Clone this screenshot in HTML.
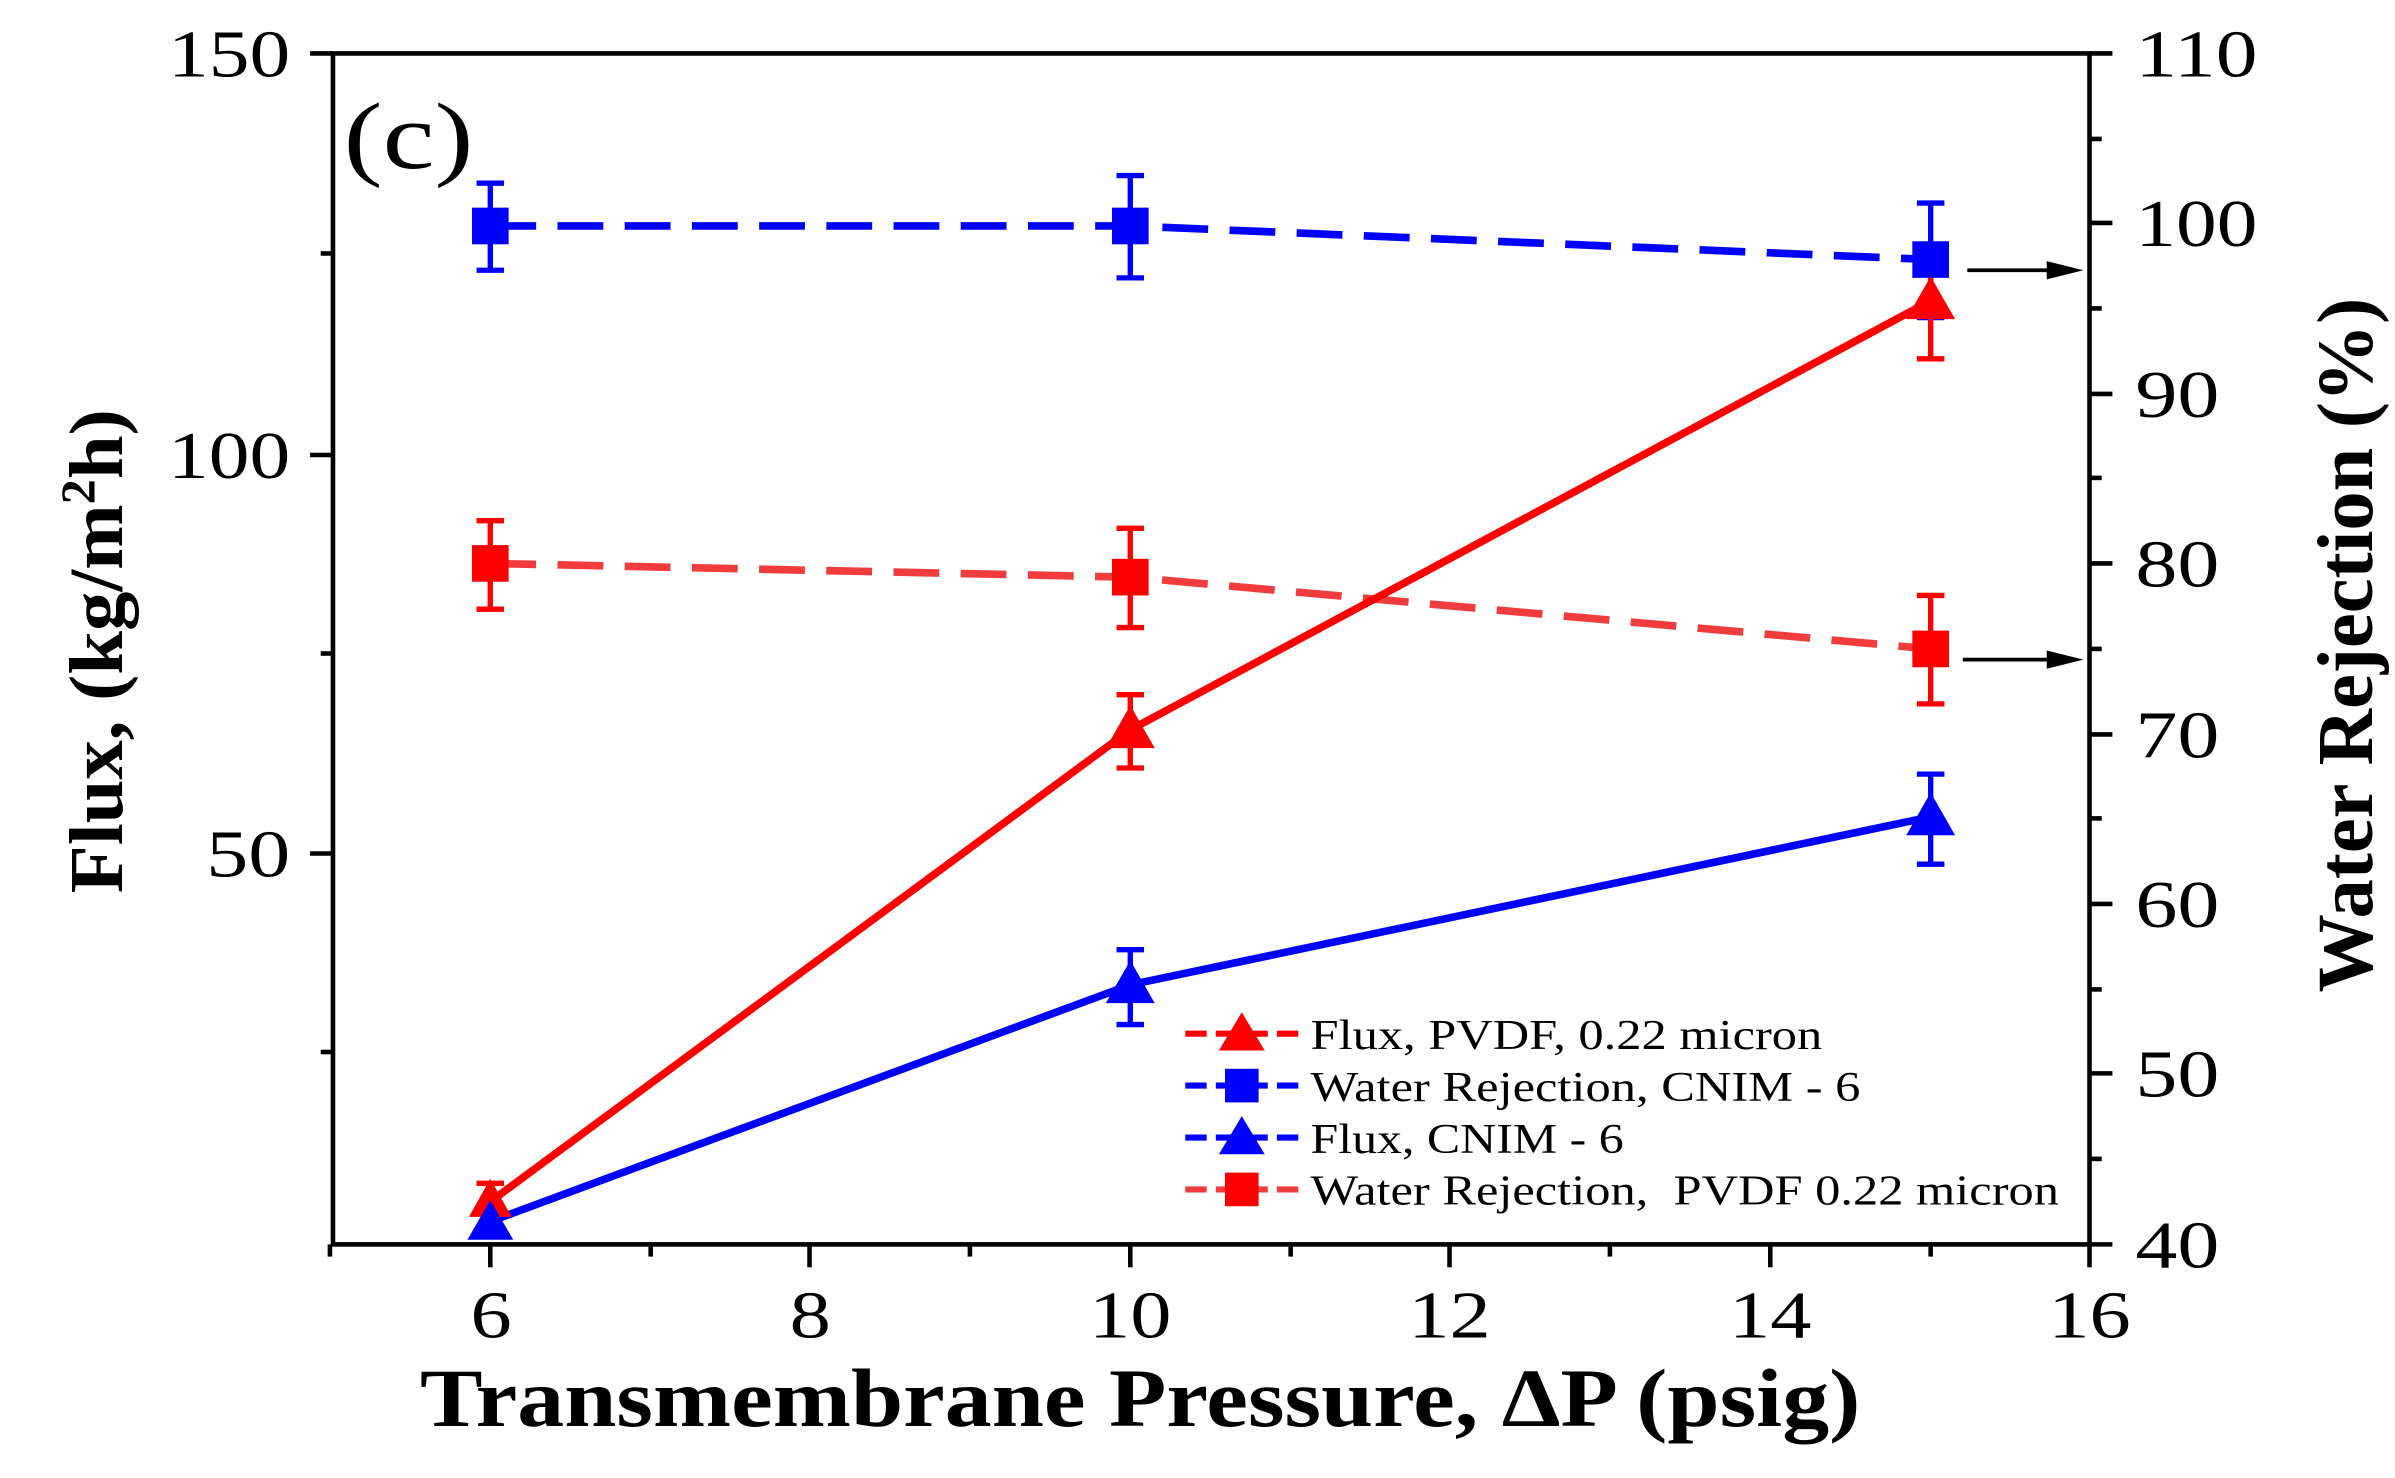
<!DOCTYPE html>
<html><head><style>html,body{margin:0;padding:0;background:#fff}svg{display:block}</style></head><body>
<svg width="2395" height="1478" viewBox="0 0 1568 968" preserveAspectRatio="none" xmlns="http://www.w3.org/2000/svg" font-family="Liberation Serif, serif">
<g stroke="#000" stroke-width="3" fill="none">
<rect x="218" y="35" width="1150" height="780"/>
<line x1="203" y1="35" x2="218" y2="35"/><line x1="203" y1="298" x2="218" y2="298"/><line x1="203" y1="559" x2="218" y2="559"/>
<line x1="210" y1="166" x2="218" y2="166"/><line x1="210" y1="428" x2="218" y2="428"/><line x1="210" y1="689" x2="218" y2="689"/>
<line x1="1368" y1="35" x2="1383" y2="35"/><line x1="1368" y1="146" x2="1383" y2="146"/><line x1="1368" y1="258" x2="1383" y2="258"/><line x1="1368" y1="369" x2="1383" y2="369"/><line x1="1368" y1="481" x2="1383" y2="481"/><line x1="1368" y1="592" x2="1383" y2="592"/><line x1="1368" y1="703" x2="1383" y2="703"/><line x1="1368" y1="815" x2="1383" y2="815"/>
<line x1="1368" y1="91" x2="1376" y2="91"/><line x1="1368" y1="202" x2="1376" y2="202"/><line x1="1368" y1="313" x2="1376" y2="313"/><line x1="1368" y1="425" x2="1376" y2="425"/><line x1="1368" y1="536" x2="1376" y2="536"/><line x1="1368" y1="648" x2="1376" y2="648"/><line x1="1368" y1="759" x2="1376" y2="759"/>
<line x1="321" y1="815" x2="321" y2="830"/><line x1="530" y1="815" x2="530" y2="830"/><line x1="740" y1="815" x2="740" y2="830"/><line x1="949" y1="815" x2="949" y2="830"/><line x1="1159" y1="815" x2="1159" y2="830"/><line x1="1368" y1="815" x2="1368" y2="830"/>
<line x1="216" y1="815" x2="216" y2="823"/><line x1="426" y1="815" x2="426" y2="823"/><line x1="635" y1="815" x2="635" y2="823"/><line x1="845" y1="815" x2="845" y2="823"/><line x1="1054" y1="815" x2="1054" y2="823"/><line x1="1264" y1="815" x2="1264" y2="823"/>
</g>
<g font-size="44" fill="#000">
<text x="110" y="50" textLength="80" lengthAdjust="spacingAndGlyphs">150</text><text x="110" y="313" textLength="80" lengthAdjust="spacingAndGlyphs">100</text><text x="135" y="574" textLength="55" lengthAdjust="spacingAndGlyphs">50</text>
<text x="1398" y="50" textLength="80" lengthAdjust="spacingAndGlyphs">110</text><text x="1398" y="161" textLength="80" lengthAdjust="spacingAndGlyphs">100</text><text x="1398" y="273" textLength="55" lengthAdjust="spacingAndGlyphs">90</text><text x="1398" y="384" textLength="55" lengthAdjust="spacingAndGlyphs">80</text><text x="1398" y="496" textLength="55" lengthAdjust="spacingAndGlyphs">70</text><text x="1398" y="607" textLength="55" lengthAdjust="spacingAndGlyphs">60</text><text x="1398" y="718" textLength="55" lengthAdjust="spacingAndGlyphs">50</text><text x="1398" y="830" textLength="55" lengthAdjust="spacingAndGlyphs">40</text>
<text x="308" y="876" textLength="27" lengthAdjust="spacingAndGlyphs">6</text><text x="517" y="876" textLength="27" lengthAdjust="spacingAndGlyphs">8</text><text x="713" y="876" textLength="54" lengthAdjust="spacingAndGlyphs">10</text><text x="922" y="876" textLength="54" lengthAdjust="spacingAndGlyphs">12</text><text x="1132" y="876" textLength="54" lengthAdjust="spacingAndGlyphs">14</text><text x="1341" y="876" textLength="54" lengthAdjust="spacingAndGlyphs">16</text>
</g>
<text x="225" y="110" font-size="62" textLength="85" lengthAdjust="spacingAndGlyphs">(c)</text>
<text x="275" y="934" font-size="54" font-weight="bold" textLength="943" lengthAdjust="spacingAndGlyphs">Transmembrane Pressure, ΔP (psig)</text>
<text transform="translate(80,585) rotate(-90)" font-size="50" font-weight="bold" textLength="317" lengthAdjust="spacingAndGlyphs">Flux, (kg/m<tspan font-size="32" dy="-18">2</tspan><tspan dy="18">h)</tspan></text>
<text transform="translate(1553,650) rotate(-90)" font-size="52" font-weight="bold" textLength="455" lengthAdjust="spacingAndGlyphs">Water Rejection (%)</text>
<g fill="none" stroke-width="5">
<polyline points="321,148 740,148 1264,170" stroke="#0000ff" stroke-dasharray="30,14"/>
<polyline points="321,369 740,378 1264,425" stroke="#f03c3c" stroke-dasharray="30,14"/>
<polyline points="321,787 740,478 1264,197" stroke="#ff0000"/>
<polyline points="321,800 740,645 1264,535" stroke="#0000ff"/>
</g>
<g stroke-width="3.5" fill="none">
<g stroke="#0000ff"><path d="M321,120V177M312,120H330M312,177H330M740,115V182M731,115H749M731,182H749M1264,133V208M1255,133H1273M1255,208H1273"/>
<path d="M740,622V671M731,622H749M731,671H749M1264,507V566M1255,507H1273M1255,566H1273"/></g>
<g stroke="#ff0000"><path d="M321,341V399M312,341H330M312,399H330M740,346V411M731,346H749M731,411H749M1264,390V461M1255,390H1273M1255,461H1273"/>
<path d="M740,455V503M731,455H749M731,503H749M1264,170V235M1255,170H1273M1255,235H1273M321,775V800M312,775H330"/></g>
</g>
<g>
<rect x="309" y="136" width="24" height="24" fill="#0000ff"/><rect x="728" y="136" width="24" height="24" fill="#0000ff"/><rect x="1252" y="158" width="24" height="24" fill="#0000ff"/>
<rect x="309" y="357" width="24" height="24" fill="#ff0000"/><rect x="728" y="366" width="24" height="24" fill="#ff0000"/><rect x="1252" y="413" width="24" height="24" fill="#ff0000"/>
<polygon points="321,772 307,797 335,797" fill="#ff0000"/><polygon points="740,462 724,490 756,490" fill="#ff0000"/><polygon points="1264,181 1248,209 1280,209" fill="#ff0000"/>
<polygon points="321,786 306,812 336,812" fill="#0000ff"/><polygon points="740,629 724,657 756,657" fill="#0000ff"/><polygon points="1264,519 1248,547 1280,547" fill="#0000ff"/>
</g>
<g stroke="#000" stroke-width="2.5"><line x1="1288" y1="177" x2="1345" y2="177"/><line x1="1285" y1="432" x2="1345" y2="432"/></g>
<polygon points="1364,177 1340,171 1340,183" fill="#000"/><polygon points="1364,432 1340,426 1340,438" fill="#000"/>
<g stroke-width="4" stroke-dasharray="14,6">
<line x1="776" y1="677" x2="850" y2="677" stroke="#ff0000"/>
<line x1="776" y1="711" x2="850" y2="711" stroke="#0000ff"/>
<line x1="776" y1="745" x2="850" y2="745" stroke="#0000ff"/>
<line x1="776" y1="779" x2="850" y2="779" stroke="#f03c3c"/>
</g>
<polygon points="813,663 798,688 828,688" fill="#ff0000"/>
<rect x="802" y="700" width="22" height="22" fill="#0000ff"/>
<polygon points="813,731 798,756 828,756" fill="#0000ff"/>
<rect x="802" y="768" width="22" height="22" fill="#ff0000"/>
<g font-size="28" fill="#000">
<text x="858" y="687" textLength="335" lengthAdjust="spacingAndGlyphs">Flux, PVDF, 0.22 micron</text>
<text x="858" y="721" textLength="360" lengthAdjust="spacingAndGlyphs">Water Rejection, CNIM - 6</text>
<text x="858" y="755" textLength="205" lengthAdjust="spacingAndGlyphs">Flux, CNIM - 6</text>
<text x="858" y="789" xml:space="preserve" textLength="490" lengthAdjust="spacingAndGlyphs">Water Rejection,  PVDF 0.22 micron</text>
</g>
</svg>
</body></html>
